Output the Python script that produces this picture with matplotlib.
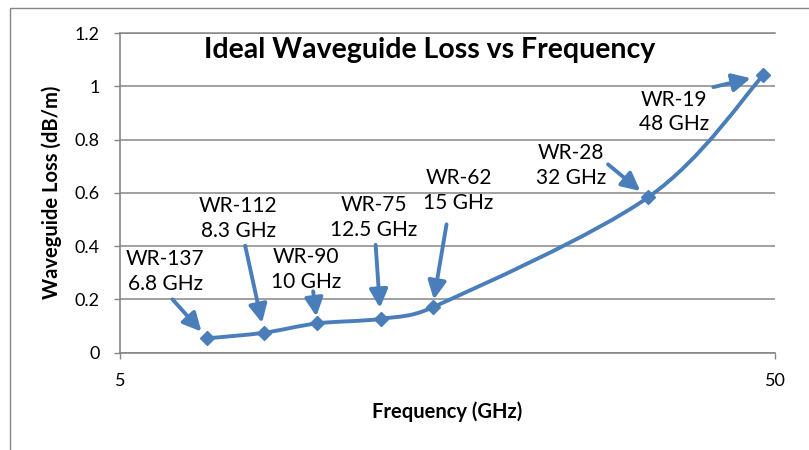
import numpy as np
import matplotlib
matplotlib.use('Agg')
import matplotlib.pyplot as plt
from matplotlib.path import Path
from matplotlib.patches import PathPatch, Rectangle

# ---------------- data ----------------
freq_ghz = [6.8, 8.3, 10, 12.5, 15, 32, 48]
loss_db_m = [0.054, 0.075, 0.110, 0.127, 0.170, 0.583, 1.042]
guide_names = ['WR-137', 'WR-112', 'WR-90', 'WR-75', 'WR-62', 'WR-28', 'WR-19']
freq_labels = ['6.8 GHz', '8.3 GHz', '10 GHz', '12.5 GHz', '15 GHz', '32 GHz', '48 GHz']
y_ticks = [0, 0.2, 0.4, 0.6, 0.8, 1.0, 1.2]
y_tick_labels = ['0', '0.2', '0.4', '0.6', '0.8', '1', '1.2']
x_ticks = [5, 50]
x_tick_labels = ['5', '50']
title = 'Ideal Waveguide Loss vs Frequency'
x_label = 'Frequency (GHz)'
y_label = 'Waveguide Loss (dB/m)'

# annotation layout (pixel offsets from each point): text centre, arrow start, tip gap
text_off = [(-42, 67), (-26, 114), (-11, 54), (-7, 101), (26, 117), (-77, 32), (-89, -37)]
arrow_off = [(-35, 39), (-19, 87), (-4, 32), (-5, 74), (14, 83), (-40, 33), (-50, -12)]
tip_gap = [9, 10, 7, 11, 8, 10, 13]

plt.rcParams['font.family'] = ['Lato', 'DejaVu Sans']
BLUE = '#4A7EBB'
GRID = '#868686'
DPI = 100
W, H = 809, 450

fig = plt.figure(figsize=(W / DPI, H / DPI), dpi=DPI)
fig.patch.set_facecolor('white')

# outer chart frame (extends past the image edges)
fig.patches.append(Rectangle((10 / W, -0.1), 1.2, 1 - 8 / H + 0.1, transform=fig.transFigure,
                             fill=False, edgecolor=GRID, lw=1.0))

ax = fig.add_axes([120 / W, 1 - 352.7 / H, (775 - 120) / W, (352.7 - 33) / H])
ax.set_xscale('log')
ax.set_xlim(5, 50)
ax.set_ylim(0, 1.2)

ax.set_xticks(x_ticks)
ax.set_xticklabels(x_tick_labels)
ax.xaxis.set_minor_locator(matplotlib.ticker.NullLocator())
ax.set_yticks(y_ticks)
ax.set_yticklabels(y_tick_labels)

ax.tick_params(axis='both', direction='out', length=4.5, width=1, color=GRID,
               labelsize=13, labelcolor='black')
ax.tick_params(axis='y', pad=10)
ax.tick_params(axis='x', pad=10)

for s in ['top', 'right']:
    ax.spines[s].set_visible(False)
for s in ['left', 'bottom']:
    ax.spines[s].set_color(GRID)
    ax.spines[s].set_linewidth(1.2)

ax.grid(axis='y', color=GRID, lw=1.1)
ax.set_axisbelow(True)
ax.axhline(1.2, color=GRID, lw=1.1, zorder=0.5, clip_on=False)

# Excel-like smoothed line: Catmull-Rom bezier in display space with
# control-point lengths capped relative to each adjacent segment
P = ax.transData.transform(np.column_stack([freq_ghz, loss_db_m]))
n = len(P)
tension = 1 / 6
cap = 0.45
verts = [P[0]]
codes = [Path.MOVETO]
for i in range(n - 1):
    p0 = P[max(i - 1, 0)]
    p1 = P[i]
    p2 = P[i + 1]
    p3 = P[min(i + 2, n - 1)]
    seg = np.linalg.norm(p2 - p1)
    t1 = (p2 - p0) * tension
    t2 = (p3 - p1) * tension
    l1, l2 = np.linalg.norm(t1), np.linalg.norm(t2)
    if l1 > cap * seg:
        t1 = t1 * cap * seg / l1
    if l2 > cap * seg:
        t2 = t2 * cap * seg / l2
    verts += [p1 + t1, p2 - t2, p2]
    codes += [Path.CURVE4] * 3
verts_data = ax.transData.inverted().transform(np.array(verts))
ax.add_patch(PathPatch(Path(verts_data, codes), fill=False, edgecolor=BLUE, lw=2.8,
                       capstyle='round', joinstyle='round', zorder=3))
ax.plot(freq_ghz, loss_db_m, linestyle='none', marker='D', ms=7.5,
        color=BLUE, zorder=4, clip_on=False)

# annotations
px2pt = 72 / DPI
for i in range(n):
    x, y = freq_ghz[i], loss_db_m[i]
    ax.annotate('', xy=(x, y), xytext=arrow_off[i], textcoords='offset pixels',
                arrowprops=dict(arrowstyle='-|>,head_length=1.1,head_width=0.55',
                                mutation_scale=10, color=BLUE, lw=2.8,
                                shrinkA=0, shrinkB=tip_gap[i] * px2pt),
                zorder=5)
    ax.annotate(guide_names[i] + '\n' + freq_labels[i], xy=(x, y),
                xytext=text_off[i], textcoords='offset pixels',
                ha='center', va='center', multialignment='center',
                fontsize=15, linespacing=1.3, color='black', zorder=6,
                annotation_clip=False)

fig.text(430 / W, 1 - 50 / H, title, ha='center', va='center',
         fontsize=20.5, fontweight='bold')
fig.text(447 / W, 1 - 412 / H, x_label, ha='center', va='center',
         fontsize=14.5, fontweight='bold')
fig.text(52 / W, 1 - 192 / H, y_label, ha='center', va='center',
         rotation=90, fontsize=14.5, fontweight='bold')

fig.savefig('out.png', dpi=DPI)
